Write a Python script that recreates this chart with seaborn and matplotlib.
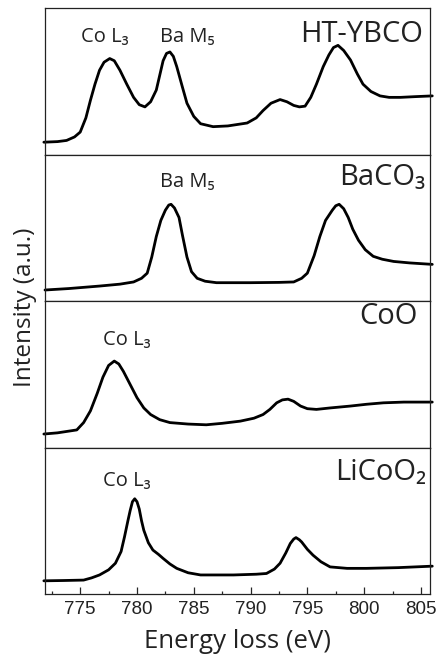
import numpy as np
import pandas as pd
import matplotlib
matplotlib.use("Agg")
import matplotlib.pyplot as plt
import seaborn as sns
from matplotlib.ticker import MultipleLocator

# ---------------- data ----------------
ht_x = [771.8, 773.0, 773.8, 774.5, 775.0, 775.5, 775.9, 776.3, 776.7, 777.1, 777.6, 778.0,
        778.5, 779.1, 779.7, 780.2, 780.7, 781.2, 781.7, 782.0, 782.3, 782.6, 782.9, 783.2,
        783.5, 784.0, 784.4, 785.0, 785.6, 786.7, 788.0, 789.7, 790.5, 791.1, 791.8, 792.6,
        793.2, 793.8, 794.3, 794.8, 795.3, 795.8, 796.4, 796.9, 797.3, 797.7, 798.2, 798.8,
        799.4, 799.9, 800.6, 801.4, 802.2, 803.2, 804.5, 806.0]
ht_y = [0.084, 0.088, 0.096, 0.12, 0.153, 0.25, 0.37, 0.48, 0.575, 0.63, 0.655, 0.64,
        0.575, 0.48, 0.39, 0.34, 0.325, 0.36, 0.44, 0.54, 0.64, 0.69, 0.70, 0.67,
        0.60, 0.46, 0.35, 0.26, 0.21, 0.19, 0.195, 0.215, 0.25, 0.30, 0.35, 0.375,
        0.36, 0.335, 0.325, 0.33, 0.39, 0.48, 0.60, 0.68, 0.73, 0.745, 0.71, 0.645,
        0.55, 0.48, 0.43, 0.40, 0.39, 0.39, 0.395, 0.40]

ba_x = [771.9, 774.0, 776.7, 778.5, 779.7, 780.4, 780.9, 781.3, 781.7, 782.1, 782.5, 782.8,
        783.0, 783.3, 783.7, 784.0, 784.4, 784.8, 785.3, 786.0, 787.0, 790.0, 792.5, 793.8,
        794.5, 795.0, 795.6, 796.1, 796.6, 797.2, 797.5, 797.8, 798.2, 798.6, 799.0, 799.5,
        800.1, 800.8, 801.6, 802.6, 804.0, 806.0]
ba_y = [0.075, 0.085, 0.102, 0.115, 0.13, 0.155, 0.19, 0.30, 0.44, 0.55, 0.62, 0.655,
        0.66, 0.635, 0.57, 0.45, 0.30, 0.20, 0.155, 0.135, 0.125, 0.125, 0.127, 0.13,
        0.155, 0.19, 0.31, 0.44, 0.55, 0.62, 0.65, 0.66, 0.63, 0.57, 0.49, 0.415,
        0.35, 0.305, 0.285, 0.27, 0.26, 0.25]

coo_x = [771.8, 773.0, 774.7, 775.3, 775.9, 776.5, 777.0, 777.5, 778.0, 778.4, 778.8, 779.4,
         780.0, 780.6, 781.2, 782.0, 782.9, 784.5, 786.1, 787.5, 789.1, 790.3, 791.1, 791.7,
         792.3, 792.8, 793.3, 793.8, 794.4, 795.0, 795.8, 797.0, 798.8, 800.2, 801.7, 803.5,
         806.0]
coo_y = [0.092, 0.10, 0.12, 0.17, 0.25, 0.37, 0.48, 0.56, 0.59, 0.57, 0.52, 0.43,
         0.34, 0.27, 0.225, 0.19, 0.17, 0.16, 0.155, 0.165, 0.18, 0.20, 0.225, 0.26,
         0.305, 0.325, 0.33, 0.315, 0.283, 0.265, 0.26, 0.27, 0.283, 0.295, 0.305, 0.31,
         0.31]

lco_x = [771.8, 773.5, 775.3, 776.0, 776.7, 777.5, 778.1, 778.6, 778.9, 779.2, 779.4, 779.6,
         779.8, 780.0, 780.2, 780.4, 780.6, 781.0, 781.4, 781.9, 782.3, 782.9, 783.5, 784.5,
         785.6, 788.5, 790.5, 791.4, 792.1, 792.6, 793.1, 793.5, 793.8, 794.0, 794.3, 794.5,
         795.0, 795.5, 796.2, 797.0, 798.5, 800.2, 803.0, 806.0]
lco_y = [0.09, 0.092, 0.095, 0.11, 0.13, 0.165, 0.21, 0.29, 0.39, 0.50, 0.57, 0.63,
         0.65, 0.63, 0.58, 0.50, 0.435, 0.35, 0.30, 0.27, 0.243, 0.205, 0.175, 0.145,
         0.13, 0.13, 0.135, 0.14, 0.17, 0.21, 0.28, 0.345, 0.375, 0.385, 0.37, 0.355,
         0.305, 0.265, 0.22, 0.185, 0.175, 0.175, 0.18, 0.19]

sample_names = ["HT-YBCO", "BaCO\u2083", "CoO", "LiCoO\u2082"]
edge_labels = [
    [("Co L\u2083", 777.2), ("Ba M\u2085", 784.4)],
    [("Ba M\u2085", 784.45)],
    [("Co L\u2083", 779.1)],
    [("Co L\u2083", 779.1)],
]
xticks_major = [775, 780, 785, 790, 795, 800, 805]

series = [(ht_x, ht_y), (ba_x, ba_y), (coo_x, coo_y), (lco_x, lco_y)]

# layout (positions only)
name_pos = [(0.981, 0.77), (0.987, 0.79), (0.968, 0.846), (0.99, 0.78)]
edge_base = [0.77, 0.78, 0.697, 0.735]

# ---------------- plot ----------------
sns.set_style("white")
plt.rcParams['font.family'] = ['Open Sans', 'DejaVu Sans']
FAM = ['Open Sans', 'DejaVu Sans']
TXT = "#222222"

fig = plt.figure(figsize=(4.36, 6.62), dpi=100)
left, right, top, bottom = 45 / 436, 430 / 436, 1 - 8 / 662, 1 - 594 / 662
h = (top - bottom) / 4
axes = []
for i in range(4):
    ax = fig.add_axes([left, top - (i + 1) * h, right - left, h])
    axes.append(ax)

for i, (ax, (xs, ys)) in enumerate(zip(axes, series)):
    df = pd.DataFrame({"x": xs, "y": ys})
    sns.lineplot(data=df, x="x", y="y", ax=ax, color="black", lw=2.0,
                 sort=True, estimator=None)
    for ln in ax.lines:
        ln.set_clip_on(False)
    ax.set_xlim(771.9, 805.8)
    ax.set_ylim(0, 1)
    ax.set_yticks([])
    ax.set_xlabel("")
    ax.set_ylabel("")
    for sp in ax.spines.values():
        sp.set_linewidth(0.9)
        sp.set_color(TXT)
    nx, ny = name_pos[i]
    ax.text(nx, ny, sample_names[i], transform=ax.transAxes, ha="right",
            va="baseline", fontsize=21, color=TXT, family=FAM)
    for (lab, xv) in edge_labels[i]:
        ax.text(xv, edge_base[i], lab, ha="center", va="baseline", fontsize=14.5,
                color=TXT, family=FAM)
    if i < 3:
        ax.set_xticks([])
    else:
        ax.set_xticks(xticks_major)
        ax.xaxis.set_minor_locator(MultipleLocator(2.5))
        ax.tick_params(axis="x", which="major", direction="in", length=5, width=0.9,
                       bottom=True, pad=5, labelsize=13.5)
        ax.tick_params(axis="x", which="minor", direction="in", length=2.5, width=0.9,
                       bottom=True)
        for t in ax.get_xticklabels():
            t.set_family(['Liberation Sans', 'DejaVu Sans'])
            t.set_color(TXT)
        ax.set_xlabel("Energy loss (eV)", fontsize=18.5, color=TXT, labelpad=8)

fig.text(25 / 436, 1 - 307 / 662, "Intensity (a.u.)", rotation=90, ha="center",
         va="center", fontsize=17.5, color=TXT)

fig.savefig("out.png", dpi=100)
